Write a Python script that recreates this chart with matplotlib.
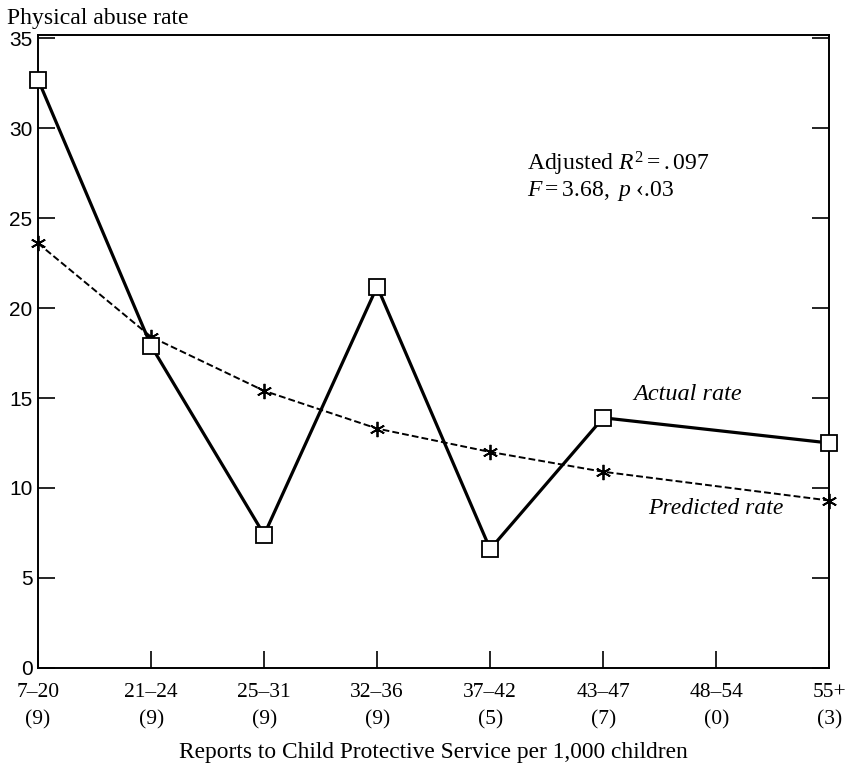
import numpy as np
import matplotlib.pyplot as plt

plt.rcParams['font.family'] = ['Liberation Serif', 'DejaVu Serif']
plt.rcParams['mathtext.fontset'] = 'custom'
plt.rcParams['mathtext.rm'] = 'Liberation Serif'
plt.rcParams['mathtext.it'] = 'Liberation Serif:italic'

# categories and counts (n per group)
categories = ['7–20', '21–24', '25–31', '32–36', '37–42', '43–47', '48–54', '55+']
counts = ['(9)', '(9)', '(9)', '(9)', '(5)', '(7)', '(0)', '(3)']

# actual rate (no value for 48-54)
actual_idx = [0, 1, 2, 3, 4, 5, 7]
actual_rate = [32.7, 17.9, 7.4, 21.2, 6.6, 13.9, 12.5]

# predicted rate (no marker for 48-54)
pred_idx = [0, 1, 2, 3, 4, 5, 7]
pred_rate = [23.6, 18.4, 15.4, 13.3, 12.0, 10.9, 9.3]

fig = plt.figure(figsize=(8.47, 7.72), dpi=100)
ax = fig.add_axes([0.045, 0.135, 0.934, 0.82])

ax.plot(pred_idx, pred_rate, color='black', lw=1.4, ls=(0, (3.5, 1.6)),
        marker=(6, 2, 0), ms=11, mew=1.3, clip_on=False, zorder=3)
ax.plot(actual_idx, actual_rate, color='black', lw=2.3, marker='s', ms=11,
        mfc='white', mec='black', mew=1.3, clip_on=False, zorder=4)

ax.set_xlim(0, len(categories) - 1)
ax.set_ylim(0, 35.2)

ax.set_xticks(range(len(categories)))
ax.set_xticklabels([c + '\n' + n for c, n in zip(categories, counts)],
                   fontsize=15.5, linespacing=1.55)
ax.set_yticks(np.arange(0, 36, 5))
ax.set_yticklabels([str(v) for v in range(0, 36, 5)], fontsize=15,
                   family=['Liberation Sans', 'DejaVu Sans'])

ax.tick_params(axis='x', direction='in', length=12, width=1.2, pad=11, top=False)
ax.tick_params(axis='y', direction='in', length=12, width=1.2, pad=4, right=True)
for s in ax.spines.values():
    s.set_linewidth(1.4)

ax.set_xlabel('Reports to Child Protective Service per 1,000 children', fontsize=16.8, labelpad=9)
fig.text(0.008, 0.976, 'Physical abuse rate', fontsize=17, va='center', ha='left')

ax.text(0.618, 0.785, r'Adjusted $\mathit{R}^{2} = .097$', transform=ax.transAxes, fontsize=17)
ax.text(0.618, 0.745, r'$\mathit{F} = 3.68,\ \mathit{p}$ ‹.03', transform=ax.transAxes, fontsize=17)

ax.text(5.27, 14.9, 'Actual rate', fontsize=17.5, style='italic')
ax.text(5.4, 8.55, 'Predicted rate', fontsize=17, style='italic')

fig.savefig('out.png', dpi=100)
